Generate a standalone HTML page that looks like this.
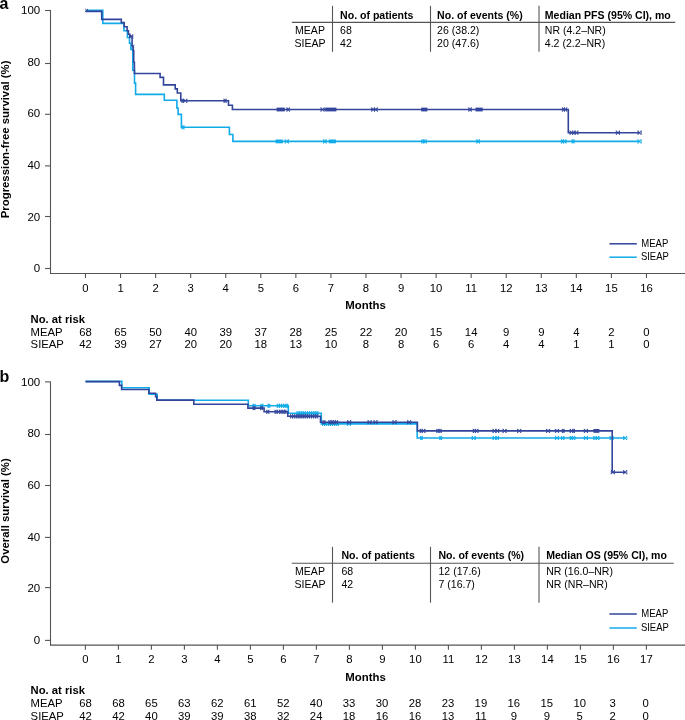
<!DOCTYPE html>
<html><head><meta charset="utf-8"><style>
html,body{margin:0;padding:0;background:#fff;}
svg{display:block;will-change:transform;}
text{font-family:"Liberation Sans", sans-serif;fill:#000000;}
</style></head><body>
<svg width="685" height="720" viewBox="0 0 685 720">
<rect width="685" height="720" fill="#fff"/>
<line x1="50.5" y1="10.0" x2="50.5" y2="274.0" stroke="#555555" stroke-width="1.1"/>
<line x1="50" y1="273.5" x2="685" y2="273.5" stroke="#555555" stroke-width="1.1"/>
<line x1="45.0" y1="10.5" x2="50.5" y2="10.5" stroke="#555555" stroke-width="1.1"/>
<text x="40.2" y="14.2" font-size="11.5" text-anchor="end" font-weight="normal" >100</text>
<line x1="45.0" y1="63.5" x2="50.5" y2="63.5" stroke="#555555" stroke-width="1.1"/>
<text x="40.2" y="65.8" font-size="11.5" text-anchor="end" font-weight="normal" >80</text>
<line x1="45.0" y1="114.3" x2="50.5" y2="114.3" stroke="#555555" stroke-width="1.1"/>
<text x="40.2" y="117.4" font-size="11.5" text-anchor="end" font-weight="normal" >60</text>
<line x1="45.0" y1="165.9" x2="50.5" y2="165.9" stroke="#555555" stroke-width="1.1"/>
<text x="40.2" y="169.0" font-size="11.5" text-anchor="end" font-weight="normal" >40</text>
<line x1="45.0" y1="216.5" x2="50.5" y2="216.5" stroke="#555555" stroke-width="1.1"/>
<text x="40.2" y="220.6" font-size="11.5" text-anchor="end" font-weight="normal" >20</text>
<line x1="45.0" y1="268.5" x2="50.5" y2="268.5" stroke="#555555" stroke-width="1.1"/>
<text x="40.2" y="272.2" font-size="11.5" text-anchor="end" font-weight="normal" >0</text>
<line x1="85.5" y1="273.5" x2="85.5" y2="278.1" stroke="#555555" stroke-width="1.1"/>
<text x="85.5" y="292.1" font-size="11.3" text-anchor="middle" font-weight="normal" >0</text>
<line x1="120.56" y1="273.5" x2="120.56" y2="278.1" stroke="#555555" stroke-width="1.1"/>
<text x="120.56" y="292.1" font-size="11.3" text-anchor="middle" font-weight="normal" >1</text>
<line x1="155.62" y1="273.5" x2="155.62" y2="278.1" stroke="#555555" stroke-width="1.1"/>
<text x="155.62" y="292.1" font-size="11.3" text-anchor="middle" font-weight="normal" >2</text>
<line x1="190.68" y1="273.5" x2="190.68" y2="278.1" stroke="#555555" stroke-width="1.1"/>
<text x="190.68" y="292.1" font-size="11.3" text-anchor="middle" font-weight="normal" >3</text>
<line x1="225.74" y1="273.5" x2="225.74" y2="278.1" stroke="#555555" stroke-width="1.1"/>
<text x="225.74" y="292.1" font-size="11.3" text-anchor="middle" font-weight="normal" >4</text>
<line x1="260.8" y1="273.5" x2="260.8" y2="278.1" stroke="#555555" stroke-width="1.1"/>
<text x="260.8" y="292.1" font-size="11.3" text-anchor="middle" font-weight="normal" >5</text>
<line x1="295.86" y1="273.5" x2="295.86" y2="278.1" stroke="#555555" stroke-width="1.1"/>
<text x="295.86" y="292.1" font-size="11.3" text-anchor="middle" font-weight="normal" >6</text>
<line x1="330.92" y1="273.5" x2="330.92" y2="278.1" stroke="#555555" stroke-width="1.1"/>
<text x="330.92" y="292.1" font-size="11.3" text-anchor="middle" font-weight="normal" >7</text>
<line x1="365.98" y1="273.5" x2="365.98" y2="278.1" stroke="#555555" stroke-width="1.1"/>
<text x="365.98" y="292.1" font-size="11.3" text-anchor="middle" font-weight="normal" >8</text>
<line x1="401.04" y1="273.5" x2="401.04" y2="278.1" stroke="#555555" stroke-width="1.1"/>
<text x="401.04" y="292.1" font-size="11.3" text-anchor="middle" font-weight="normal" >9</text>
<line x1="436.1" y1="273.5" x2="436.1" y2="278.1" stroke="#555555" stroke-width="1.1"/>
<text x="436.1" y="292.1" font-size="11.3" text-anchor="middle" font-weight="normal" >10</text>
<line x1="471.16" y1="273.5" x2="471.16" y2="278.1" stroke="#555555" stroke-width="1.1"/>
<text x="471.16" y="292.1" font-size="11.3" text-anchor="middle" font-weight="normal" >11</text>
<line x1="506.22" y1="273.5" x2="506.22" y2="278.1" stroke="#555555" stroke-width="1.1"/>
<text x="506.22" y="292.1" font-size="11.3" text-anchor="middle" font-weight="normal" >12</text>
<line x1="541.28" y1="273.5" x2="541.28" y2="278.1" stroke="#555555" stroke-width="1.1"/>
<text x="541.28" y="292.1" font-size="11.3" text-anchor="middle" font-weight="normal" >13</text>
<line x1="576.34" y1="273.5" x2="576.34" y2="278.1" stroke="#555555" stroke-width="1.1"/>
<text x="576.34" y="292.1" font-size="11.3" text-anchor="middle" font-weight="normal" >14</text>
<line x1="611.4000000000001" y1="273.5" x2="611.4000000000001" y2="278.1" stroke="#555555" stroke-width="1.1"/>
<text x="611.4" y="292.1" font-size="11.3" text-anchor="middle" font-weight="normal" >15</text>
<line x1="646.46" y1="273.5" x2="646.46" y2="278.1" stroke="#555555" stroke-width="1.1"/>
<text x="646.46" y="292.1" font-size="11.3" text-anchor="middle" font-weight="normal" >16</text>
<text transform="translate(9.3,139.4) rotate(-90)" font-size="11.35" font-weight="bold" text-anchor="middle">Progression-free survival (%)</text>
<text x="-0.6" y="8.9" font-size="16" text-anchor="start" font-weight="bold" >a</text>
<text x="365.6" y="309.2" font-size="11.4" text-anchor="middle" font-weight="bold" >Months</text>
<line x1="332.5" y1="5.8" x2="332.5" y2="51.8" stroke="#555555" stroke-width="1.1"/>
<line x1="430.5" y1="5.8" x2="430.5" y2="51.8" stroke="#555555" stroke-width="1.1"/>
<line x1="539.0" y1="5.8" x2="539.0" y2="51.8" stroke="#555555" stroke-width="1.1"/>
<line x1="291.8" y1="22.4" x2="675.2" y2="22.4" stroke="#555555" stroke-width="1.1"/>
<text x="340.1" y="18.6" font-size="10.55" text-anchor="start" font-weight="bold" >No. of patients</text>
<text x="437.1" y="18.6" font-size="10.55" text-anchor="start" font-weight="bold" >No. of events (%)</text>
<text x="544.8" y="18.6" font-size="10.55" text-anchor="start" font-weight="bold" >Median PFS (95% CI), mo</text>
<text x="310" y="34.0" font-size="10.55" text-anchor="middle" font-weight="normal" >MEAP</text>
<text x="310" y="47.4" font-size="10.55" text-anchor="middle" font-weight="normal" >SIEAP</text>
<text x="340.1" y="34.0" font-size="10.55" text-anchor="start" font-weight="normal" >68</text>
<text x="340.1" y="47.4" font-size="10.55" text-anchor="start" font-weight="normal" >42</text>
<text x="437.1" y="34.0" font-size="10.55" text-anchor="start" font-weight="normal" >26 (38.2)</text>
<text x="437.1" y="47.4" font-size="10.55" text-anchor="start" font-weight="normal" >20 (47.6)</text>
<text x="544.8" y="34.0" font-size="10.55" text-anchor="start" font-weight="normal" >NR (4.2–NR)</text>
<text x="544.8" y="47.4" font-size="10.55" text-anchor="start" font-weight="normal" >4.2 (2.2–NR)</text>
<line x1="609.4" y1="243.8" x2="636.8" y2="243.8" stroke="#32449b" stroke-width="1.5"/>
<line x1="609.4" y1="257.2" x2="636.8" y2="257.2" stroke="#10abe8" stroke-width="1.5"/>
<text x="641.3" y="246.7" font-size="10.6" textLength="27" lengthAdjust="spacingAndGlyphs">MEAP</text>
<text x="640.9" y="260.1" font-size="10.6" textLength="28" lengthAdjust="spacingAndGlyphs">SIEAP</text>
<text x="30.6" y="322.6" font-size="11.25" text-anchor="start" font-weight="bold" >No. at risk</text>
<text x="30.6" y="335.7" font-size="11.3" text-anchor="start" font-weight="normal" >MEAP</text>
<text x="30.6" y="348.1" font-size="11.3" text-anchor="start" font-weight="normal" >SIEAP</text>
<text x="85.5" y="335.7" font-size="11.3" text-anchor="middle" font-weight="normal" >68</text>
<text x="85.5" y="348.1" font-size="11.3" text-anchor="middle" font-weight="normal" >42</text>
<text x="120.56" y="335.7" font-size="11.3" text-anchor="middle" font-weight="normal" >65</text>
<text x="120.56" y="348.1" font-size="11.3" text-anchor="middle" font-weight="normal" >39</text>
<text x="155.62" y="335.7" font-size="11.3" text-anchor="middle" font-weight="normal" >50</text>
<text x="155.62" y="348.1" font-size="11.3" text-anchor="middle" font-weight="normal" >27</text>
<text x="190.68" y="335.7" font-size="11.3" text-anchor="middle" font-weight="normal" >40</text>
<text x="190.68" y="348.1" font-size="11.3" text-anchor="middle" font-weight="normal" >20</text>
<text x="225.74" y="335.7" font-size="11.3" text-anchor="middle" font-weight="normal" >39</text>
<text x="225.74" y="348.1" font-size="11.3" text-anchor="middle" font-weight="normal" >20</text>
<text x="260.8" y="335.7" font-size="11.3" text-anchor="middle" font-weight="normal" >37</text>
<text x="260.8" y="348.1" font-size="11.3" text-anchor="middle" font-weight="normal" >18</text>
<text x="295.86" y="335.7" font-size="11.3" text-anchor="middle" font-weight="normal" >28</text>
<text x="295.86" y="348.1" font-size="11.3" text-anchor="middle" font-weight="normal" >13</text>
<text x="330.92" y="335.7" font-size="11.3" text-anchor="middle" font-weight="normal" >25</text>
<text x="330.92" y="348.1" font-size="11.3" text-anchor="middle" font-weight="normal" >10</text>
<text x="365.98" y="335.7" font-size="11.3" text-anchor="middle" font-weight="normal" >22</text>
<text x="365.98" y="348.1" font-size="11.3" text-anchor="middle" font-weight="normal" >8</text>
<text x="401.04" y="335.7" font-size="11.3" text-anchor="middle" font-weight="normal" >20</text>
<text x="401.04" y="348.1" font-size="11.3" text-anchor="middle" font-weight="normal" >8</text>
<text x="436.1" y="335.7" font-size="11.3" text-anchor="middle" font-weight="normal" >15</text>
<text x="436.1" y="348.1" font-size="11.3" text-anchor="middle" font-weight="normal" >6</text>
<text x="471.16" y="335.7" font-size="11.3" text-anchor="middle" font-weight="normal" >14</text>
<text x="471.16" y="348.1" font-size="11.3" text-anchor="middle" font-weight="normal" >6</text>
<text x="506.22" y="335.7" font-size="11.3" text-anchor="middle" font-weight="normal" >9</text>
<text x="506.22" y="348.1" font-size="11.3" text-anchor="middle" font-weight="normal" >4</text>
<text x="541.28" y="335.7" font-size="11.3" text-anchor="middle" font-weight="normal" >9</text>
<text x="541.28" y="348.1" font-size="11.3" text-anchor="middle" font-weight="normal" >4</text>
<text x="576.34" y="335.7" font-size="11.3" text-anchor="middle" font-weight="normal" >4</text>
<text x="576.34" y="348.1" font-size="11.3" text-anchor="middle" font-weight="normal" >1</text>
<text x="611.4" y="335.7" font-size="11.3" text-anchor="middle" font-weight="normal" >2</text>
<text x="611.4" y="348.1" font-size="11.3" text-anchor="middle" font-weight="normal" >1</text>
<text x="646.46" y="335.7" font-size="11.3" text-anchor="middle" font-weight="normal" >0</text>
<text x="646.46" y="348.1" font-size="11.3" text-anchor="middle" font-weight="normal" >0</text>
<path d="M86.6,10.4 L102.8,10.4 L102.8,23.4 L123.9,23.4 L123.9,30.8 L127.4,30.8 L127.4,37.5 L129.5,37.5 L129.5,43.3 L130.9,43.3 L130.9,49.4 L132.8,49.4 L132.8,70.3 L134.5,70.3 L134.5,83.1 L135.6,83.1 L135.6,94.4 L164.3,94.4 L164.3,100.2 L176.9,100.2 L176.9,108 L178.1,108 L178.1,114.4 L181.4,114.4 L181.4,127.3 L229.4,127.3 L229.4,134.5 L232.9,134.5 L232.9,141.4 L640.2,141.4" fill="none" stroke="#10abe8" stroke-width="1.6" stroke-linejoin="miter" stroke-linecap="butt"/>
<path d="M181.90,125.3L181.90,129.3M181.90,125.3L184.00,129.3M181.90,129.3L184.00,125.3M184.00,125.3L184.00,129.3" fill="none" stroke="#10abe8" stroke-width="0.85"/>
<rect x="275.6" y="139.5" width="7.199999999999989" height="3.8" fill="#10abe8"/>
<path d="M285.30,139.4L285.30,143.4M285.30,139.4L288.40,143.4M285.30,143.4L288.40,139.4M288.40,139.4L288.40,143.4" fill="none" stroke="#10abe8" stroke-width="0.85"/>
<path d="M323.60,139.4L323.60,143.4M323.60,139.4L326.20,143.4M323.60,143.4L326.20,139.4M326.20,139.4L326.20,143.4" fill="none" stroke="#10abe8" stroke-width="0.85"/>
<rect x="328.8" y="139.5" width="7.099999999999966" height="3.8" fill="#10abe8"/>
<path d="M421.80,139.4L421.80,143.4M421.80,139.4L423.80,143.4M421.80,143.4L423.80,139.4M423.80,139.4L423.80,143.4M423.80,139.4L426.30,143.4M423.80,143.4L426.30,139.4M426.30,139.4L426.30,143.4" fill="none" stroke="#10abe8" stroke-width="0.85"/>
<path d="M476.80,139.4L476.80,143.4M476.80,139.4L479.40,143.4M476.80,143.4L479.40,139.4M479.40,139.4L479.40,143.4" fill="none" stroke="#10abe8" stroke-width="0.85"/>
<path d="M561.40,139.4L561.40,143.4M561.40,139.4L563.40,143.4M561.40,143.4L563.40,139.4M563.40,139.4L563.40,143.4M563.40,139.4L566.00,143.4M563.40,143.4L566.00,139.4M566.00,139.4L566.00,143.4M572.10,139.4L572.10,143.4M572.10,139.4L574.10,143.4M572.10,143.4L574.10,139.4M574.10,139.4L574.10,143.4M638.00,139.4L641.20,143.4L641.20,139.4L638.00,143.4Z" fill="none" stroke="#10abe8" stroke-width="0.85"/>
<path d="M85.5,11.4 L101.7,11.4 L101.7,19.4 L121.3,19.4 L121.3,22.6 L124.2,22.6 L124.2,26.8 L127.1,26.8 L127.1,30.8 L128.4,30.8 L128.4,34.2 L129.9,34.2 L129.9,36.4 L132.1,36.4 L132.1,46 L133.1,46 L133.1,50.6 L133.7,50.6 L133.7,62.2 L134.4,62.2 L134.4,73.5 L160.1,73.5 L160.1,77.4 L163.5,77.4 L163.5,84.9 L175.2,84.9 L175.2,88.9 L177.3,88.9 L177.3,93 L180.8,93 L180.8,100.8 L228.5,100.8 L228.5,105.3 L232.4,105.3 L232.4,109.5 L568.3,109.5 L568.3,132.7 L640.2,132.7" fill="none" stroke="#32449b" stroke-width="1.6" stroke-linejoin="miter" stroke-linecap="butt"/>
<path d="M85.19999999999999,8.9L88.0,11.700000000000001M85.19999999999999,11.700000000000001L88.0,8.9" fill="none" stroke="#32449b" stroke-width="1.0"/>
<path d="M129.60,34.4L132.80,38.4L132.80,34.4L129.60,38.4Z" fill="none" stroke="#32449b" stroke-width="0.85"/>
<path d="M131.7,45.1L134.3,47.699999999999996M131.7,47.699999999999996L134.3,45.1" fill="none" stroke="#32449b" stroke-width="1.0"/>
<path d="M181.90,98.8L181.90,102.8M181.90,98.8L183.60,102.8M181.90,102.8L183.60,98.8M183.60,98.8L183.60,102.8M183.60,98.8L186.90,102.8M183.60,102.8L186.90,98.8M186.90,98.8L186.90,102.8M224.00,98.8L224.00,102.8M224.00,98.8L226.20,102.8M224.00,102.8L226.20,98.8M226.20,98.8L226.20,102.8" fill="none" stroke="#32449b" stroke-width="0.85"/>
<rect x="276.6" y="107.6" width="8.199999999999989" height="3.8" fill="#32449b"/>
<path d="M286.90,107.5L286.90,111.5M286.90,107.5L289.40,111.5M286.90,111.5L289.40,107.5M289.40,107.5L289.40,111.5" fill="none" stroke="#32449b" stroke-width="0.85"/>
<path d="M321.00,107.5L324.20,111.5L324.20,107.5L321.00,111.5Z" fill="none" stroke="#32449b" stroke-width="0.85"/>
<rect x="325.2" y="107.6" width="11.199999999999989" height="3.8" fill="#32449b"/>
<path d="M371.70,107.5L371.70,111.5M371.70,107.5L374.50,111.5M371.70,111.5L374.50,107.5M374.50,107.5L374.50,111.5M374.50,107.5L377.30,111.5M374.50,111.5L377.30,107.5M377.30,107.5L377.30,111.5" fill="none" stroke="#32449b" stroke-width="0.85"/>
<rect x="421.2" y="107.6" width="6.199999999999989" height="3.8" fill="#32449b"/>
<path d="M468.80,107.5L468.80,111.5M468.80,107.5L471.30,111.5M468.80,111.5L471.30,107.5M471.30,107.5L471.30,111.5" fill="none" stroke="#32449b" stroke-width="0.85"/>
<rect x="475.5" y="107.6" width="7.199999999999989" height="3.8" fill="#32449b"/>
<path d="M562.40,107.5L562.40,111.5M562.40,107.5L564.40,111.5M562.40,111.5L564.40,107.5M564.40,107.5L564.40,111.5M564.40,107.5L566.70,111.5M564.40,111.5L566.70,107.5M566.70,107.5L566.70,111.5" fill="none" stroke="#32449b" stroke-width="0.85"/>
<path d="M570.00,130.7L570.00,134.7M570.00,130.7L572.60,134.7M570.00,134.7L572.60,130.7M572.60,130.7L572.60,134.7M572.60,130.7L575.10,134.7M572.60,134.7L575.10,130.7M575.10,130.7L575.10,134.7M575.10,130.7L577.90,134.7M575.10,134.7L577.90,130.7M577.90,130.7L577.90,134.7M616.30,130.7L619.50,134.7L619.50,130.7L616.30,134.7ZM638.00,130.7L641.20,134.7L641.20,130.7L638.00,134.7Z" fill="none" stroke="#32449b" stroke-width="0.85"/>
<line x1="50.5" y1="381.4" x2="50.5" y2="645.6" stroke="#555555" stroke-width="1.1"/>
<line x1="50" y1="645.1" x2="685" y2="645.1" stroke="#555555" stroke-width="1.1"/>
<line x1="45.0" y1="381.9" x2="50.5" y2="381.9" stroke="#555555" stroke-width="1.1"/>
<text x="40.2" y="385.7" font-size="11.5" text-anchor="end" font-weight="normal" >100</text>
<line x1="45.0" y1="434.5" x2="50.5" y2="434.5" stroke="#555555" stroke-width="1.1"/>
<text x="40.2" y="437.34" font-size="11.5" text-anchor="end" font-weight="normal" >80</text>
<line x1="45.0" y1="485.5" x2="50.5" y2="485.5" stroke="#555555" stroke-width="1.1"/>
<text x="40.2" y="488.98" font-size="11.5" text-anchor="end" font-weight="normal" >60</text>
<line x1="45.0" y1="537.4" x2="50.5" y2="537.4" stroke="#555555" stroke-width="1.1"/>
<text x="40.2" y="540.62" font-size="11.5" text-anchor="end" font-weight="normal" >40</text>
<line x1="45.0" y1="587.6" x2="50.5" y2="587.6" stroke="#555555" stroke-width="1.1"/>
<text x="40.2" y="592.26" font-size="11.5" text-anchor="end" font-weight="normal" >20</text>
<line x1="45.0" y1="640.4" x2="50.5" y2="640.4" stroke="#555555" stroke-width="1.1"/>
<text x="40.2" y="643.9" font-size="11.5" text-anchor="end" font-weight="normal" >0</text>
<line x1="85.4" y1="645.1" x2="85.4" y2="649.7" stroke="#555555" stroke-width="1.1"/>
<text x="85.4" y="663.2" font-size="11.3" text-anchor="middle" font-weight="normal" >0</text>
<line x1="118.4" y1="645.1" x2="118.4" y2="649.7" stroke="#555555" stroke-width="1.1"/>
<text x="118.4" y="663.2" font-size="11.3" text-anchor="middle" font-weight="normal" >1</text>
<line x1="151.4" y1="645.1" x2="151.4" y2="649.7" stroke="#555555" stroke-width="1.1"/>
<text x="151.4" y="663.2" font-size="11.3" text-anchor="middle" font-weight="normal" >2</text>
<line x1="184.4" y1="645.1" x2="184.4" y2="649.7" stroke="#555555" stroke-width="1.1"/>
<text x="184.4" y="663.2" font-size="11.3" text-anchor="middle" font-weight="normal" >3</text>
<line x1="217.4" y1="645.1" x2="217.4" y2="649.7" stroke="#555555" stroke-width="1.1"/>
<text x="217.4" y="663.2" font-size="11.3" text-anchor="middle" font-weight="normal" >4</text>
<line x1="250.4" y1="645.1" x2="250.4" y2="649.7" stroke="#555555" stroke-width="1.1"/>
<text x="250.4" y="663.2" font-size="11.3" text-anchor="middle" font-weight="normal" >5</text>
<line x1="283.4" y1="645.1" x2="283.4" y2="649.7" stroke="#555555" stroke-width="1.1"/>
<text x="283.4" y="663.2" font-size="11.3" text-anchor="middle" font-weight="normal" >6</text>
<line x1="316.4" y1="645.1" x2="316.4" y2="649.7" stroke="#555555" stroke-width="1.1"/>
<text x="316.4" y="663.2" font-size="11.3" text-anchor="middle" font-weight="normal" >7</text>
<line x1="349.4" y1="645.1" x2="349.4" y2="649.7" stroke="#555555" stroke-width="1.1"/>
<text x="349.4" y="663.2" font-size="11.3" text-anchor="middle" font-weight="normal" >8</text>
<line x1="382.4" y1="645.1" x2="382.4" y2="649.7" stroke="#555555" stroke-width="1.1"/>
<text x="382.4" y="663.2" font-size="11.3" text-anchor="middle" font-weight="normal" >9</text>
<line x1="415.4" y1="645.1" x2="415.4" y2="649.7" stroke="#555555" stroke-width="1.1"/>
<text x="415.4" y="663.2" font-size="11.3" text-anchor="middle" font-weight="normal" >10</text>
<line x1="448.4" y1="645.1" x2="448.4" y2="649.7" stroke="#555555" stroke-width="1.1"/>
<text x="448.4" y="663.2" font-size="11.3" text-anchor="middle" font-weight="normal" >11</text>
<line x1="481.4" y1="645.1" x2="481.4" y2="649.7" stroke="#555555" stroke-width="1.1"/>
<text x="481.4" y="663.2" font-size="11.3" text-anchor="middle" font-weight="normal" >12</text>
<line x1="514.4" y1="645.1" x2="514.4" y2="649.7" stroke="#555555" stroke-width="1.1"/>
<text x="514.4" y="663.2" font-size="11.3" text-anchor="middle" font-weight="normal" >13</text>
<line x1="547.4" y1="645.1" x2="547.4" y2="649.7" stroke="#555555" stroke-width="1.1"/>
<text x="547.4" y="663.2" font-size="11.3" text-anchor="middle" font-weight="normal" >14</text>
<line x1="580.4" y1="645.1" x2="580.4" y2="649.7" stroke="#555555" stroke-width="1.1"/>
<text x="580.4" y="663.2" font-size="11.3" text-anchor="middle" font-weight="normal" >15</text>
<line x1="613.4" y1="645.1" x2="613.4" y2="649.7" stroke="#555555" stroke-width="1.1"/>
<text x="613.4" y="663.2" font-size="11.3" text-anchor="middle" font-weight="normal" >16</text>
<line x1="646.4" y1="645.1" x2="646.4" y2="649.7" stroke="#555555" stroke-width="1.1"/>
<text x="646.4" y="663.2" font-size="11.3" text-anchor="middle" font-weight="normal" >17</text>
<text transform="translate(9.3,511.0) rotate(-90)" font-size="11.35" font-weight="bold" text-anchor="middle">Overall survival (%)</text>
<text x="-0.6" y="382.1" font-size="16" text-anchor="start" font-weight="bold" >b</text>
<text x="365.6" y="680.6" font-size="11.4" text-anchor="middle" font-weight="bold" >Months</text>
<line x1="332.5" y1="546.8" x2="332.5" y2="602.7" stroke="#555555" stroke-width="1.1"/>
<line x1="430.5" y1="546.8" x2="430.5" y2="602.7" stroke="#555555" stroke-width="1.1"/>
<line x1="539.0" y1="546.8" x2="539.0" y2="602.7" stroke="#555555" stroke-width="1.1"/>
<line x1="291.8" y1="563.3" x2="673.8" y2="563.3" stroke="#555555" stroke-width="1.1"/>
<text x="341.5" y="558.8" font-size="10.55" text-anchor="start" font-weight="bold" >No. of patients</text>
<text x="438.5" y="558.8" font-size="10.55" text-anchor="start" font-weight="bold" >No. of events (%)</text>
<text x="546.2" y="558.8" font-size="10.55" text-anchor="start" font-weight="bold" >Median OS (95% CI), mo</text>
<text x="310" y="574.6" font-size="10.55" text-anchor="middle" font-weight="normal" >MEAP</text>
<text x="310" y="587.9" font-size="10.55" text-anchor="middle" font-weight="normal" >SIEAP</text>
<text x="341.5" y="574.6" font-size="10.55" text-anchor="start" font-weight="normal" >68</text>
<text x="341.5" y="587.9" font-size="10.55" text-anchor="start" font-weight="normal" >42</text>
<text x="438.5" y="574.6" font-size="10.55" text-anchor="start" font-weight="normal" >12 (17.6)</text>
<text x="438.5" y="587.9" font-size="10.55" text-anchor="start" font-weight="normal" >7 (16.7)</text>
<text x="546.2" y="574.6" font-size="10.55" text-anchor="start" font-weight="normal" >NR (16.0–NR)</text>
<text x="546.2" y="587.9" font-size="10.55" text-anchor="start" font-weight="normal" >NR (NR–NR)</text>
<line x1="609.4" y1="614.0" x2="636.8" y2="614.0" stroke="#32449b" stroke-width="1.5"/>
<line x1="609.4" y1="628.0" x2="636.8" y2="628.0" stroke="#10abe8" stroke-width="1.5"/>
<text x="641.3" y="617.0" font-size="10.6" textLength="27" lengthAdjust="spacingAndGlyphs">MEAP</text>
<text x="640.9" y="630.7" font-size="10.6" textLength="28" lengthAdjust="spacingAndGlyphs">SIEAP</text>
<text x="30.6" y="693.8" font-size="11.25" text-anchor="start" font-weight="bold" >No. at risk</text>
<text x="30.6" y="706.9" font-size="11.3" text-anchor="start" font-weight="normal" >MEAP</text>
<text x="30.6" y="719.7" font-size="11.3" text-anchor="start" font-weight="normal" >SIEAP</text>
<text x="85.5" y="706.9" font-size="11.3" text-anchor="middle" font-weight="normal" >68</text>
<text x="85.5" y="719.7" font-size="11.3" text-anchor="middle" font-weight="normal" >42</text>
<text x="118.45" y="706.9" font-size="11.3" text-anchor="middle" font-weight="normal" >68</text>
<text x="118.45" y="719.7" font-size="11.3" text-anchor="middle" font-weight="normal" >42</text>
<text x="151.4" y="706.9" font-size="11.3" text-anchor="middle" font-weight="normal" >65</text>
<text x="151.4" y="719.7" font-size="11.3" text-anchor="middle" font-weight="normal" >40</text>
<text x="184.35" y="706.9" font-size="11.3" text-anchor="middle" font-weight="normal" >63</text>
<text x="184.35" y="719.7" font-size="11.3" text-anchor="middle" font-weight="normal" >39</text>
<text x="217.3" y="706.9" font-size="11.3" text-anchor="middle" font-weight="normal" >62</text>
<text x="217.3" y="719.7" font-size="11.3" text-anchor="middle" font-weight="normal" >39</text>
<text x="250.25" y="706.9" font-size="11.3" text-anchor="middle" font-weight="normal" >61</text>
<text x="250.25" y="719.7" font-size="11.3" text-anchor="middle" font-weight="normal" >38</text>
<text x="283.2" y="706.9" font-size="11.3" text-anchor="middle" font-weight="normal" >52</text>
<text x="283.2" y="719.7" font-size="11.3" text-anchor="middle" font-weight="normal" >32</text>
<text x="316.15" y="706.9" font-size="11.3" text-anchor="middle" font-weight="normal" >40</text>
<text x="316.15" y="719.7" font-size="11.3" text-anchor="middle" font-weight="normal" >24</text>
<text x="349.1" y="706.9" font-size="11.3" text-anchor="middle" font-weight="normal" >33</text>
<text x="349.1" y="719.7" font-size="11.3" text-anchor="middle" font-weight="normal" >18</text>
<text x="382.05" y="706.9" font-size="11.3" text-anchor="middle" font-weight="normal" >30</text>
<text x="382.05" y="719.7" font-size="11.3" text-anchor="middle" font-weight="normal" >16</text>
<text x="415.0" y="706.9" font-size="11.3" text-anchor="middle" font-weight="normal" >28</text>
<text x="415.0" y="719.7" font-size="11.3" text-anchor="middle" font-weight="normal" >16</text>
<text x="447.95" y="706.9" font-size="11.3" text-anchor="middle" font-weight="normal" >23</text>
<text x="447.95" y="719.7" font-size="11.3" text-anchor="middle" font-weight="normal" >13</text>
<text x="480.9" y="706.9" font-size="11.3" text-anchor="middle" font-weight="normal" >19</text>
<text x="480.9" y="719.7" font-size="11.3" text-anchor="middle" font-weight="normal" >11</text>
<text x="513.85" y="706.9" font-size="11.3" text-anchor="middle" font-weight="normal" >16</text>
<text x="513.85" y="719.7" font-size="11.3" text-anchor="middle" font-weight="normal" >9</text>
<text x="546.8" y="706.9" font-size="11.3" text-anchor="middle" font-weight="normal" >15</text>
<text x="546.8" y="719.7" font-size="11.3" text-anchor="middle" font-weight="normal" >9</text>
<text x="579.75" y="706.9" font-size="11.3" text-anchor="middle" font-weight="normal" >10</text>
<text x="579.75" y="719.7" font-size="11.3" text-anchor="middle" font-weight="normal" >5</text>
<text x="612.7" y="706.9" font-size="11.3" text-anchor="middle" font-weight="normal" >3</text>
<text x="612.7" y="719.7" font-size="11.3" text-anchor="middle" font-weight="normal" >2</text>
<text x="645.65" y="706.9" font-size="11.3" text-anchor="middle" font-weight="normal" >0</text>
<text x="645.65" y="719.7" font-size="11.3" text-anchor="middle" font-weight="normal" >0</text>
<path d="M85.5,381.4 L121.8,381.4 L121.8,387.7 L149.2,387.7 L149.2,394.2 L157.2,394.2 L157.2,400.3 L248.3,400.3 L248.3,405.8 L288.3,405.8 L288.3,413.3 L321.3,413.3 L321.3,423.9 L417.2,423.9 L417.2,438.0 L625.7,438.0" fill="none" stroke="#10abe8" stroke-width="1.6" stroke-linejoin="miter" stroke-linecap="butt"/>
<path d="M253.10,403.8L253.10,407.8M253.10,403.8L255.10,407.8M253.10,407.8L255.10,403.8M255.10,403.8L255.10,407.8M261.00,403.8L261.00,407.8M261.00,403.8L262.90,407.8M261.00,407.8L262.90,403.8M262.90,403.8L262.90,407.8M268.00,403.8L268.00,407.8M268.00,403.8L269.80,407.8M268.00,407.8L269.80,403.8M269.80,403.8L269.80,407.8M277.20,403.8L277.20,407.8M277.20,403.8L279.40,407.8M277.20,407.8L279.40,403.8M279.40,403.8L279.40,407.8M279.40,403.8L281.60,407.8M279.40,407.8L281.60,403.8M281.60,403.8L281.60,407.8M281.60,403.8L283.80,407.8M281.60,407.8L283.80,403.8M283.80,403.8L283.80,407.8M283.80,403.8L286.00,407.8M283.80,407.8L286.00,403.8M286.00,403.8L286.00,407.8M286.00,403.8L287.70,407.8M286.00,407.8L287.70,403.8M287.70,403.8L287.70,407.8" fill="none" stroke="#10abe8" stroke-width="0.85"/>
<path d="M297.00,411.3L297.00,415.3M297.00,411.3L299.10,415.3M297.00,415.3L299.10,411.3M299.10,411.3L299.10,415.3M299.10,411.3L301.20,415.3M299.10,415.3L301.20,411.3M301.20,411.3L301.20,415.3M301.20,411.3L303.30,415.3M301.20,415.3L303.30,411.3M303.30,411.3L303.30,415.3M303.30,411.3L305.40,415.3M303.30,415.3L305.40,411.3M305.40,411.3L305.40,415.3M305.40,411.3L307.50,415.3M305.40,415.3L307.50,411.3M307.50,411.3L307.50,415.3M307.50,411.3L309.60,415.3M307.50,415.3L309.60,411.3M309.60,411.3L309.60,415.3M309.60,411.3L311.70,415.3M309.60,415.3L311.70,411.3M311.70,411.3L311.70,415.3M311.70,411.3L313.80,415.3M311.70,415.3L313.80,411.3M313.80,411.3L313.80,415.3M313.80,411.3L315.90,415.3M313.80,415.3L315.90,411.3M315.90,411.3L315.90,415.3M315.90,411.3L318.00,415.3M315.90,415.3L318.00,411.3M318.00,411.3L318.00,415.3" fill="none" stroke="#10abe8" stroke-width="0.85"/>
<path d="M322.50,421.9L322.50,425.9M322.50,421.9L324.50,425.9M322.50,425.9L324.50,421.9M324.50,421.9L324.50,425.9M324.50,421.9L326.50,425.9M324.50,425.9L326.50,421.9M326.50,421.9L326.50,425.9M326.50,421.9L328.50,425.9M326.50,425.9L328.50,421.9M328.50,421.9L328.50,425.9M328.50,421.9L330.50,425.9M328.50,425.9L330.50,421.9M330.50,421.9L330.50,425.9M330.50,421.9L332.50,425.9M330.50,425.9L332.50,421.9M332.50,421.9L332.50,425.9M332.50,421.9L334.50,425.9M332.50,425.9L334.50,421.9M334.50,421.9L334.50,425.9M334.50,421.9L336.50,425.9M334.50,425.9L336.50,421.9M336.50,421.9L336.50,425.9M336.50,421.9L338.50,425.9M336.50,425.9L338.50,421.9M338.50,421.9L338.50,425.9M347.30,421.9L350.50,425.9L350.50,421.9L347.30,425.9Z" fill="none" stroke="#10abe8" stroke-width="0.85"/>
<path d="M420.60,436.0L420.60,440.0M420.60,436.0L422.30,440.0M420.60,440.0L422.30,436.0M422.30,436.0L422.30,440.0M439.80,436.0L439.80,440.0M439.80,436.0L441.60,440.0M439.80,440.0L441.60,436.0M441.60,436.0L441.60,440.0M472.10,436.0L475.30,440.0L475.30,436.0L472.10,440.0ZM493.00,436.0L493.00,440.0M493.00,436.0L495.90,440.0M493.00,440.0L495.90,436.0M495.90,436.0L495.90,440.0M495.90,436.0L498.50,440.0M495.90,440.0L498.50,436.0M498.50,436.0L498.50,440.0M555.40,436.0L558.60,440.0L558.60,436.0L555.40,440.0ZM561.40,436.0L561.40,440.0M561.40,436.0L564.00,440.0M561.40,440.0L564.00,436.0M564.00,436.0L564.00,440.0M570.10,436.0L570.10,440.0M570.10,436.0L572.40,440.0M570.10,440.0L572.40,436.0M572.40,436.0L572.40,440.0M572.40,436.0L574.90,440.0M572.40,440.0L574.90,436.0M574.90,436.0L574.90,440.0M584.30,436.0L587.50,440.0L587.50,436.0L584.30,440.0ZM593.80,436.0L593.80,440.0M593.80,436.0L596.40,440.0M593.80,440.0L596.40,436.0M596.40,436.0L596.40,440.0M596.40,436.0L599.00,440.0M596.40,440.0L599.00,436.0M599.00,436.0L599.00,440.0M610.00,436.0L613.20,440.0L613.20,436.0L610.00,440.0ZM623.60,436.0L626.80,440.0L626.80,436.0L623.60,440.0Z" fill="none" stroke="#10abe8" stroke-width="0.85"/>
<path d="M85.5,381.6 L119.4,381.6 L119.4,385.4 L121.6,385.4 L121.6,389.5 L148.8,389.5 L148.8,393.2 L155.6,393.2 L155.6,396.6 L156.8,396.6 L156.8,400.1 L193.8,400.1 L193.8,404.3 L247.9,404.3 L247.9,408.1 L264.1,408.1 L264.1,411.8 L287.8,411.8 L287.8,416.3 L320.5,416.3 L320.5,422.2 L417.4,422.2 L417.4,430.9 L612.2,430.9 L612.2,472.2 L625.7,472.2" fill="none" stroke="#32449b" stroke-width="1.6" stroke-linejoin="miter" stroke-linecap="butt"/>
<path d="M253.10,406.1L253.10,410.1M253.10,406.1L254.90,410.1M253.10,410.1L254.90,406.1M254.90,406.1L254.90,410.1M260.60,406.1L260.60,410.1M260.60,406.1L262.30,410.1M260.60,410.1L262.30,406.1M262.30,406.1L262.30,410.1" fill="none" stroke="#32449b" stroke-width="0.85"/>
<path d="M266.70,409.8L266.70,413.8M266.70,409.8L268.90,413.8M266.70,413.8L268.90,409.8M268.90,409.8L268.90,413.8M275.00,409.8L275.00,413.8M275.00,409.8L277.20,413.8M275.00,413.8L277.20,409.8M277.20,409.8L277.20,413.8M277.20,409.8L279.80,413.8M277.20,413.8L279.80,409.8M279.80,409.8L279.80,413.8M279.80,409.8L282.00,413.8M279.80,413.8L282.00,409.8M282.00,409.8L282.00,413.8M282.00,409.8L284.20,413.8M282.00,413.8L284.20,409.8M284.20,409.8L284.20,413.8M284.20,409.8L286.00,413.8M284.20,413.8L286.00,409.8M286.00,409.8L286.00,413.8" fill="none" stroke="#32449b" stroke-width="0.85"/>
<path d="M290.50,414.3L290.50,418.3M290.50,414.3L292.60,418.3M290.50,418.3L292.60,414.3M292.60,414.3L292.60,418.3M292.60,414.3L294.70,418.3M292.60,418.3L294.70,414.3M294.70,414.3L294.70,418.3M294.70,414.3L296.80,418.3M294.70,418.3L296.80,414.3M296.80,414.3L296.80,418.3M296.80,414.3L298.90,418.3M296.80,418.3L298.90,414.3M298.90,414.3L298.90,418.3M298.90,414.3L301.00,418.3M298.90,418.3L301.00,414.3M301.00,414.3L301.00,418.3M301.00,414.3L303.10,418.3M301.00,418.3L303.10,414.3M303.10,414.3L303.10,418.3M303.10,414.3L305.20,418.3M303.10,418.3L305.20,414.3M305.20,414.3L305.20,418.3M305.20,414.3L307.30,418.3M305.20,418.3L307.30,414.3M307.30,414.3L307.30,418.3M307.30,414.3L309.40,418.3M307.30,418.3L309.40,414.3M309.40,414.3L309.40,418.3M309.40,414.3L311.50,418.3M309.40,418.3L311.50,414.3M311.50,414.3L311.50,418.3M311.50,414.3L313.60,418.3M311.50,418.3L313.60,414.3M313.60,414.3L313.60,418.3M313.60,414.3L315.70,418.3M313.60,418.3L315.70,414.3M315.70,414.3L315.70,418.3M315.70,414.3L317.80,418.3M315.70,418.3L317.80,414.3M317.80,414.3L317.80,418.3" fill="none" stroke="#32449b" stroke-width="0.85"/>
<path d="M322.90,420.2L322.90,424.2M322.90,420.2L325.00,424.2M322.90,424.2L325.00,420.2M325.00,420.2L325.00,424.2M328.80,420.2L328.80,424.2M328.80,420.2L331.00,424.2M328.80,424.2L331.00,420.2M331.00,420.2L331.00,424.2M331.00,420.2L333.20,424.2M331.00,424.2L333.20,420.2M333.20,420.2L333.20,424.2M333.20,420.2L335.40,424.2M333.20,424.2L335.40,420.2M335.40,420.2L335.40,424.2M335.40,420.2L337.60,424.2M335.40,424.2L337.60,420.2M337.60,420.2L337.60,424.2M347.60,420.2L350.80,424.2L350.80,420.2L347.60,424.2ZM368.00,420.2L371.20,424.2L371.20,420.2L368.00,424.2ZM373.90,420.2L377.10,424.2L377.10,420.2L373.90,424.2ZM392.90,420.2L396.10,424.2L396.10,420.2L392.90,424.2ZM407.60,420.2L410.80,424.2L410.80,420.2L407.60,424.2Z" fill="none" stroke="#32449b" stroke-width="0.85"/>
<path d="M420.10,428.9L420.10,432.9M420.10,428.9L422.30,432.9M420.10,432.9L422.30,428.9M422.30,428.9L422.30,432.9M422.30,428.9L425.00,432.9M422.30,432.9L425.00,428.9M425.00,428.9L425.00,432.9M436.80,428.9L436.80,432.9M436.80,428.9L439.00,432.9M436.80,432.9L439.00,428.9M439.00,428.9L439.00,432.9M439.00,428.9L441.20,432.9M439.00,432.9L441.20,428.9M441.20,428.9L441.20,432.9M473.20,428.9L473.20,432.9M473.20,428.9L475.40,432.9M473.20,432.9L475.40,428.9M475.40,428.9L475.40,432.9M475.40,428.9L478.10,432.9M475.40,432.9L478.10,428.9M478.10,428.9L478.10,432.9M493.00,428.9L493.00,432.9M493.00,428.9L495.90,432.9M493.00,432.9L495.90,428.9M495.90,428.9L495.90,432.9M495.90,428.9L498.80,432.9M495.90,432.9L498.80,428.9M498.80,428.9L498.80,432.9M503.00,428.9L506.20,432.9L506.20,428.9L503.00,432.9ZM517.60,428.9L520.80,432.9L520.80,428.9L517.60,432.9ZM546.50,428.9L549.70,432.9L549.70,428.9L546.50,432.9ZM555.40,428.9L558.60,432.9L558.60,428.9L555.40,432.9ZM562.30,428.9L562.30,432.9M562.30,428.9L564.00,432.9M562.30,432.9L564.00,428.9M564.00,428.9L564.00,432.9M570.10,428.9L570.10,432.9M570.10,428.9L572.80,432.9M570.10,432.9L572.80,428.9M572.80,428.9L572.80,432.9M572.80,428.9L574.50,432.9M572.80,432.9L574.50,428.9M574.50,428.9L574.50,432.9M584.30,428.9L587.50,432.9L587.50,428.9L584.30,432.9Z" fill="none" stroke="#32449b" stroke-width="0.85"/>
<rect x="593.4" y="429.0" width="6.0" height="3.8" fill="#32449b"/>
<path d="M611.30,470.2L614.50,474.2L614.50,470.2L611.30,474.2ZM623.60,470.2L626.80,474.2L626.80,470.2L623.60,474.2Z" fill="none" stroke="#32449b" stroke-width="0.85"/>
</svg>
</body></html>
